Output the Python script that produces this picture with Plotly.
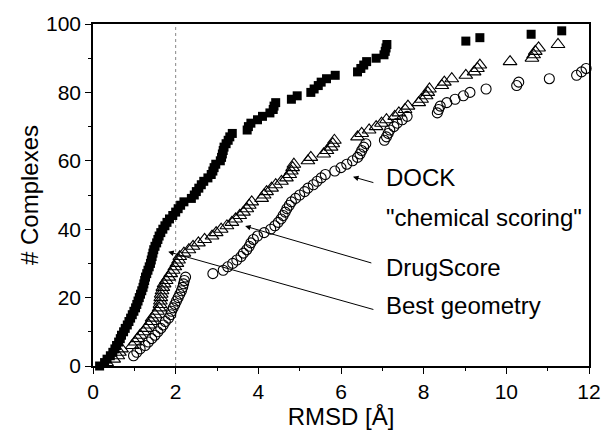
import plotly.graph_objects as go

# Cumulative number of complexes docked within a given RMSD (Å)
best_rmsd = [0.16, 0.28, 0.34, 0.42, 0.48, 0.53, 0.57, 0.62, 0.66, 0.69,
             0.74, 0.78, 0.83, 0.87, 0.91, 0.95, 0.99, 1.03, 1.06, 1.09,
             1.12, 1.15, 1.18, 1.21, 1.23, 1.25, 1.27, 1.30, 1.33, 1.36,
             1.39, 1.41, 1.43, 1.45, 1.47, 1.50, 1.54, 1.57, 1.60, 1.64,
             1.69, 1.74, 1.79, 1.85, 1.93, 2.00, 2.06, 2.12, 2.20, 2.38,
             2.45, 2.50, 2.56, 2.62, 2.68, 2.78, 2.86, 2.90, 2.93, 2.97,
             3.08, 3.11, 3.13, 3.15, 3.17, 3.22, 3.27, 3.31, 3.37, 3.73,
             3.76, 3.82, 3.98, 4.10, 4.28, 4.36, 4.38, 4.42, 4.80, 4.94,
             5.27, 5.35, 5.45, 5.52, 5.65, 5.86, 6.40, 6.48, 6.55, 6.62,
             6.85, 7.04, 7.07, 7.09, 7.11, 9.02, 9.36, 10.60, 11.34]
best_count = [0, 1, 2, 3, 4, 5, 6, 7, 8, 9,
              10, 11, 12, 13, 14, 15, 16, 17, 18, 19,
              20, 21, 22, 23, 24, 25, 26, 27, 28, 29,
              30, 31, 32, 33, 34, 35, 36, 37, 38, 39,
              40, 41, 42, 43, 44, 45, 46, 47, 48, 49,
              50, 51, 52, 53, 54, 55, 56, 57, 58, 59,
              60, 61, 62, 63, 64, 65, 66, 67, 68, 69,
              70, 71, 72, 73, 74, 75, 76, 77, 78, 79,
              80, 81, 82, 83, 84, 85, 86, 87, 88, 89,
              90, 91, 92, 93, 94, 95, 96, 97, 98]

drug_rmsd = [0.33, 0.50, 0.60, 0.64, 0.69, 0.95, 1.02, 1.08, 1.14, 1.22,
             1.28, 1.35, 1.40, 1.43, 1.50, 1.56, 1.60, 1.62, 1.63, 1.64,
             1.65, 1.67, 1.69, 1.72, 1.77, 1.83, 1.88, 1.94, 1.98, 2.03,
             2.07, 2.10, 2.20, 2.32, 2.42, 2.55, 2.70, 2.88, 2.98, 3.10,
             3.24, 3.36, 3.45, 3.55, 3.64, 3.72, 3.78, 3.84, 4.08, 4.14,
             4.20, 4.32, 4.42, 4.56, 4.68, 4.76, 4.80, 4.83, 4.86, 5.20,
             5.27, 5.58, 5.66, 5.76, 5.80, 5.84, 6.40, 6.50, 6.68, 6.85,
             6.98, 7.10, 7.30, 7.40, 7.55, 7.62, 7.88, 7.95, 8.06, 8.10,
             8.14, 8.44, 8.50, 8.68, 9.02, 9.22, 9.30, 9.36, 10.09, 10.62,
             10.66, 10.70, 10.78, 11.25]
drug_count = [1, 2, 3, 4, 5, 6, 7, 8, 9, 10,
              11, 12, 13, 14, 15, 16, 17, 18, 19, 20,
              21, 22, 23, 24, 25, 26, 27, 28, 29, 30,
              31, 32, 33, 34, 35, 36, 37, 38, 39, 40,
              41, 42, 43, 44, 45, 46, 47, 48, 49, 50,
              51, 52, 53, 54, 55, 56, 57, 58, 59, 60,
              61, 62, 63, 64, 65, 66, 67, 68, 69, 70,
              71, 72, 73, 74, 75, 76, 77, 78, 79, 80,
              81, 82, 83, 84, 85, 86, 87, 88, 89, 90,
              91, 92, 93, 94]

dock_rmsd = [0.98, 1.06, 1.14, 1.26, 1.34, 1.42, 1.50, 1.57, 1.64, 1.70,
             1.75, 1.83, 1.88, 1.90, 1.94, 1.98, 2.02, 2.06, 2.10, 2.14,
             2.17, 2.19, 2.21, 2.24, 2.90, 3.15, 3.26, 3.38, 3.48, 3.58,
             3.64, 3.72, 3.78, 3.82, 3.88, 3.98, 4.14, 4.30, 4.40, 4.48,
             4.55, 4.60, 4.65, 4.69, 4.75, 4.80, 4.90, 5.00, 5.12, 5.20,
             5.33, 5.42, 5.52, 5.62, 5.85, 6.00, 6.14, 6.28, 6.40, 6.46,
             6.50, 6.55, 6.60, 7.05, 7.10, 7.14, 7.18, 7.28, 7.36, 7.48,
             7.60, 8.33, 8.36, 8.40, 8.56, 8.76, 8.96, 9.12, 9.51, 10.25,
             10.30, 11.04, 11.70, 11.82, 11.93]
dock_count = [3, 4, 5, 6, 7, 8, 9, 10, 11, 12,
              13, 14, 15, 16, 17, 18, 19, 20, 21, 22,
              23, 24, 25, 26, 27, 28, 29, 30, 31, 32,
              33, 34, 35, 36, 37, 38, 39, 40, 41, 42,
              43, 44, 45, 46, 47, 48, 49, 50, 51, 52,
              53, 54, 55, 56, 57, 58, 59, 60, 61, 62,
              63, 64, 65, 66, 67, 68, 69, 70, 71, 72,
              73, 74, 75, 76, 77, 78, 79, 80, 81, 82,
              83, 84, 85, 86, 87]

x_ticks = [0, 2, 4, 6, 8, 10, 12]
y_ticks = [0, 20, 40, 60, 80, 100]
cutoff = 2.0

FONT = "Liberation Sans, Arial, sans-serif"

fig = go.Figure()

# vertical dotted line at the 2 Å success threshold
fig.add_shape(type="line", x0=cutoff, x1=cutoff, y0=0, y1=100,
              xref="x", yref="y", layer="below",
              line=dict(color="#888888", width=1, dash="dot"))

fig.add_trace(go.Scatter(
    x=dock_rmsd, y=dock_count, mode="markers", name="DOCK",
    marker=dict(symbol="circle-open", size=10, color="black",
                line=dict(width=1.1, color="black")),
    cliponaxis=False))
fig.add_trace(go.Scatter(
    x=drug_rmsd, y=drug_count, mode="markers", name="DrugScore",
    marker=dict(symbol="triangle-up-open", size=12, color="black",
                line=dict(width=1.1, color="black")),
    cliponaxis=False))
fig.add_trace(go.Scatter(
    x=best_rmsd, y=best_count, mode="markers", name="Best geometry",
    marker=dict(symbol="square", size=9, color="black",
                line=dict(width=0)),
    cliponaxis=False))

# labels with leader arrows
labels = [
    dict(text="DOCK", x=7.04, y=55.0, head=(6.29, 55.3)),
    dict(text="\"chemical scoring\"", x=7.04, y=43.3, head=None),
    dict(text="DrugScore", x=7.04, y=28.9, head=(3.68, 40.9)),
    dict(text="Best geometry", x=7.04, y=17.6, head=(1.82, 33.4)),
]
tails = {"DOCK": (6.82, 53.5), "DrugScore": (6.77, 30.0), "Best geometry": (6.82, 16.4)}

for lab in labels:
    fig.add_annotation(x=lab["x"], y=lab["y"], xref="x", yref="y",
                       text=lab["text"], showarrow=False,
                       xanchor="left", yanchor="middle",
                       font=dict(family=FONT, size=24, color="black"))
    if lab["head"] is not None:
        tx, ty = tails[lab["text"]]
        hx, hy = lab["head"]
        fig.add_annotation(x=hx, y=hy, ax=tx, ay=ty,
                           xref="x", yref="y", axref="x", ayref="y",
                           text="", showarrow=True, arrowhead=2,
                           arrowsize=1.1, arrowwidth=1, arrowcolor="black")

axis_common = dict(
    showgrid=False, zeroline=False, showline=True, linecolor="black",
    linewidth=1.5, mirror=True, ticks="outside", ticklen=6, tickwidth=1.2,
    tickcolor="black", tickfont=dict(family=FONT, size=21, color="black"),
    automargin=False,
)

fig.update_xaxes(range=[0, 12], tickvals=x_ticks,
                 minor=dict(ticks="outside", dtick=1, tick0=0, ticklen=3,
                            tickcolor="black"),
                 title=dict(text="RMSD [Å]", standoff=5,
                            font=dict(family=FONT, size=24, color="black")),
                 **axis_common)
fig.update_yaxes(range=[0, 100], tickvals=y_ticks,
                 minor=dict(ticks="outside", dtick=10, tick0=0, ticklen=3,
                            tickcolor="black"),
                 title=dict(text="# Complexes", standoff=1,
                            font=dict(family=FONT, size=24, color="black")),
                 **axis_common)

fig.update_layout(
    width=602, height=434,
    margin=dict(l=93, r=13, t=24, b=68),
    paper_bgcolor="white", plot_bgcolor="white",
    showlegend=False,
    font=dict(family=FONT, color="black"),
)

fig.write_html("out.html")
